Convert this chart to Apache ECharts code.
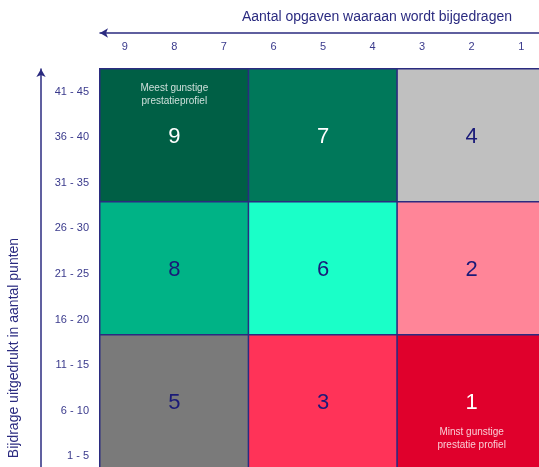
<!DOCTYPE html>
<html>
<head>
<meta charset="utf-8">
<script src="https://cdn.jsdelivr.net/npm/echarts@6/dist/echarts.min.js"></script>
<style>
  html, body { margin: 0; padding: 0; background: #ffffff; }
  #chart { width: 539px; height: 467px; }
</style>
</head>
<body>
<div id="chart"></div>
<script>
// Profile matrix: 3 x 3 blocks of "number of tasks" by "points contributed"
const taskGroups = ['9 - 7', '6 - 4', '3 - 1'];
const pointGroups = ['1 - 15', '16 - 30', '31 - 45'];

// Tick labels of the two guide axes
const taskTicks = ['9', '8', '7', '6', '5', '4', '3', '2', '1'];
const pointTicks = ['1 - 5', '6 - 10', '11 - 15', '16 - 20', '21 - 25', '26 - 30', '31 - 35', '36 - 40', '41 - 45'];

// Profile number per block: [taskGroup, pointGroup, profile]
const profiles = [
  [0, 2, 9], [1, 2, 7], [2, 2, 4],
  [0, 1, 8], [1, 1, 6], [2, 1, 2],
  [0, 0, 5], [1, 0, 3], [2, 0, 1]
];

// Fill and number colour per profile
const profileFill = {
  9: '#005f45', 7: '#00785a', 4: '#c0c0c0',
  8: '#00b386', 6: '#1affc8', 2: '#ff8598',
  5: '#7a7a7a', 3: '#ff3358', 1: '#e0002c'
};
const profileText = {
  9: '#ffffff', 7: '#ffffff', 4: '#1a1a78',
  8: '#1a1a78', 6: '#1a1a78', 2: '#1a1a78',
  5: '#1a1a78', 3: '#1a1a78', 1: '#ffffff'
};

// Notes on the best and worst profile blocks
const notes = [
  { at: [0, 2], text: 'Meest gunstige\nprestatieprofiel', shift: -41 },
  { at: [2, 0], text: 'Minst gunstige\nprestatie profiel', shift: 37 }
];

const navy = '#2b2b80';
const tickColor = '#3a3a8c';
const font = "'Liberation Sans', Arial, sans-serif";

const chart = echarts.init(document.getElementById('chart'), null, { renderer: 'canvas' });

chart.setOption({
  animation: false,
  backgroundColor: '#ffffff',
  grid: [
    { left: 100, top: 69, width: 446, height: 399, outerBoundsMode: 'none', containLabel: false },
    { left: 100, top: 69, width: 446, height: 410, outerBoundsMode: 'none', containLabel: false }
  ],
  xAxis: [
    { type: 'category', gridIndex: 0, data: taskGroups, show: false },
    {
      type: 'category', gridIndex: 1, data: taskTicks, position: 'top', offset: 36,
      axisLine: { show: true, symbol: ['arrow', 'none'], symbolSize: [7, 8],
        lineStyle: { color: navy, width: 1.5 } },
      axisTick: { show: false },
      splitLine: { show: false },
      axisLabel: { inside: true, margin: 8, color: tickColor, fontSize: 11, fontFamily: font }
    }
  ],
  yAxis: [
    { type: 'category', gridIndex: 0, data: pointGroups, show: false },
    {
      type: 'category', gridIndex: 1, data: pointTicks, position: 'left', offset: 59,
      axisLine: { show: true, symbol: ['none', 'arrow'], symbolSize: [7, 8],
        lineStyle: { color: navy, width: 1.5 } },
      axisTick: { show: false },
      splitLine: { show: false },
      axisLabel: { inside: true, align: 'right', margin: 48, color: tickColor, fontSize: 11, fontFamily: font }
    }
  ],
  series: [
    {
      type: 'heatmap',
      xAxisIndex: 0,
      yAxisIndex: 0,
      silent: true,
      data: profiles.map(p => ({
        value: p,
        itemStyle: { color: profileFill[p[2]] },
        label: { color: profileText[p[2]] }
      })),
      itemStyle: { borderColor: navy, borderWidth: 1.5 },
      label: {
        show: true,
        fontSize: 22,
        fontFamily: font,
        offset: [0, 1.5],
        formatter: p => String(p.value[2])
      }
    },
    {
      type: 'scatter',
      xAxisIndex: 0,
      yAxisIndex: 0,
      silent: true,
      symbolSize: 0,
      data: notes.map(n => ({
        value: n.at,
        name: n.text,
        label: { offset: [0, n.shift] }
      })),
      label: {
        show: true,
        position: 'inside',
        color: '#ffffff',
        fontSize: 10,
        lineHeight: 13,
        fontFamily: font,
        formatter: p => p.name
      }
    }
  ],
  graphic: [
    {
      type: 'text', x: 512, y: 17,
      style: { text: 'Aantal opgaven waaraan wordt bijgedragen', fill: navy,
        font: '14px ' + font, align: 'right', verticalAlign: 'middle' }
    },
    {
      type: 'text', x: 14, y: 348, rotation: Math.PI / 2,
      style: { text: 'Bijdrage uitgedrukt in aantal punten', fill: navy,
        font: '14px ' + font, align: 'center', verticalAlign: 'middle' }
    }
  ]
});
</script>
</body>
</html>
